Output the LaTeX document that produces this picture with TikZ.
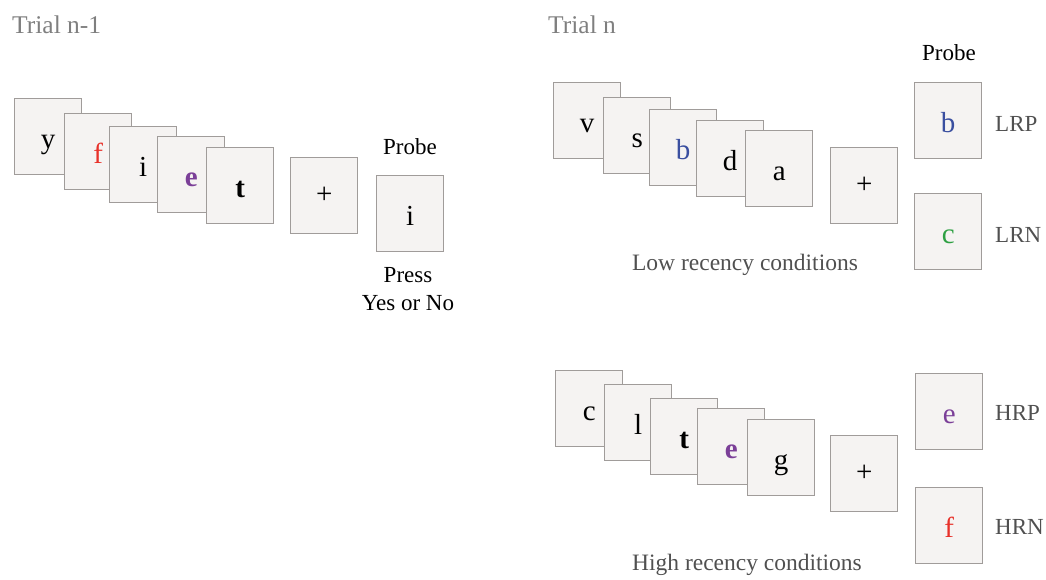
\documentclass[tikz,border=0pt]{standalone}
\usepackage{fontspec}
\setmainfont{Liberation Serif}
\definecolor{cardfill}{HTML}{F5F3F2}
\definecolor{carddraw}{HTML}{A09C9A}
\definecolor{lred}{HTML}{E8312A}
\definecolor{lpurple}{HTML}{7B3F98}
\definecolor{lblue}{HTML}{3A4FA0}
\definecolor{lgreen}{HTML}{2EA043}
\definecolor{trialgray}{HTML}{7F7F7F}
\definecolor{labgray}{HTML}{505050}
\tikzset{
  cardbase/.style={draw=carddraw, fill=cardfill, line width=1.4pt, minimum width=67pt, minimum height=76pt, inner sep=0pt, anchor=north west, font=\fontsize{29}{29}\selectfont},
  card/.style={cardbase, text height=24pt, text depth=0pt},
  pluscard/.style={cardbase},
  trial/.style={anchor=west, inner sep=0pt, text=trialgray, font=\fontsize{25.5}{25.5}\selectfont},
  blk/.style={inner sep=0pt, text=black, font=\fontsize{23}{28}\selectfont, align=center},
  cond/.style={inner sep=0pt, text=labgray, font=\fontsize{23.5}{23.5}\selectfont},
  tag/.style={anchor=west, inner sep=0pt, text=labgray, font=\fontsize{23}{23}\selectfont}
}
\begin{document}
\begin{tikzpicture}[x=1pt,y=-1pt]
\useasboundingbox (0,0) rectangle (1046,579);
% Trial n-1
\node[trial] (t1) at (12,25) {Trial n-1};
\node[card] (a1) at (14,98) {y};
\node[card, text=lred] (a2) at (64,113) {f};
\node[card] (a3) at (109,126) {i};
\node[card, text=lpurple] (a4) at (157,136) {\bfseries e};
\node[card] (a5) at (206,147) {\bfseries t};
\node[pluscard] (a6) at (290,157) {+};
\node[card] (a7) at (376,175) {i};
\node[blk] (p1) at (410,147) {Probe};
\node[blk] (pr) at (408,289) {Press\\Yes or No};
% Trial n
\node[trial] (t2) at (548,25) {Trial n};
\node[blk] (p2) at (949,53) {Probe};
\node[card] (b1) at (553,82) {v};
\node[card] (b2) at (603,97) {s};
\node[card, text=lblue] (b3) at (649,109) {b};
\node[card] (b4) at (696,120) {d};
\node[card] (b5) at (745,130) {a};
\node[pluscard] (b6) at (830,147) {+};
\node[card, text=lblue] (b7) at (914,82) {b};
\node[card, text=lgreen] (b8) at (914,193) {c};
\node[tag] (lrp) at (995,124) {LRP};
\node[tag] (lrn) at (995,235) {LRN};
\node[cond] (low) at (745,265) {Low recency conditions};
% High recency
\node[card] (c1) at (555,370) {c};
\node[card] (c2) at (604,384) {l};
\node[card] (c3) at (650,398) {\bfseries t};
\node[card, text=lpurple] (c4) at (697,408) {\bfseries e};
\node[card] (c5) at (747,419) {g};
\node[pluscard] (c6) at (830,435) {+};
\node[card, text=lpurple] (c7) at (915,373) {e};
\node[card, text=lred] (c8) at (915,487) {f};
\node[tag] (hrp) at (995,413) {HRP};
\node[tag] (hrn) at (995,527) {HRN};
\node[cond] (high) at (747,565) {High recency conditions};
\end{tikzpicture}
\end{document}
